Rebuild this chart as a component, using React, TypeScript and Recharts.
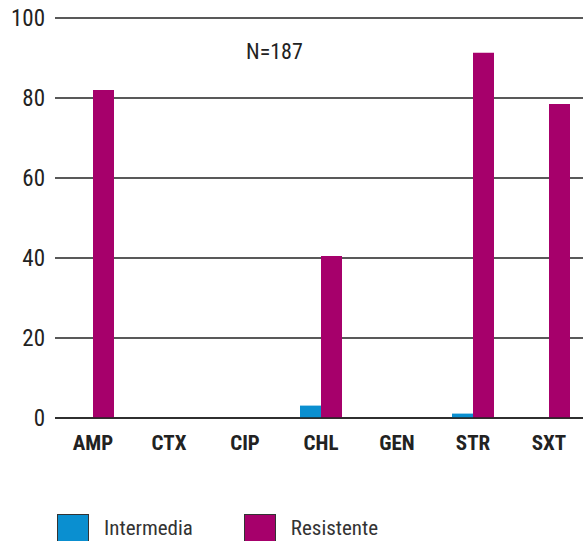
import React from 'react'
import { BarChart, Bar, XAxis, YAxis, CartesianGrid } from 'recharts'

const categories = ['AMP', 'CTX', 'CIP', 'CHL', 'GEN', 'STR', 'SXT']
const intermedia = [0, 0, 0, 3.1, 0, 1.1, 0]
const resistente = [82, 0, 0, 40.5, 0, 91.3, 78.5]
const yTicks = [0, 20, 40, 60, 80, 100]

const BLUE = '#0a8fd0'
const MAGENTA = '#a6006b'
const FONT = '"Liberation Sans Narrow", "Roboto Condensed", Roboto, sans-serif'

const data = categories.map((c, i) => ({
  name: c,
  intermedia: intermedia[i],
  resistente: resistente[i],
}))

const legendItems = [
  { label: 'Intermedia', color: BLUE },
  { label: 'Resistente', color: MAGENTA },
]

export default function App() {
  return (
    <div style={{ position: 'absolute', left: 0, top: 0, width: 583, height: 541, overflow: 'hidden', background: '#fff', fontFamily: FONT }}>
      <BarChart
        width={590}
        height={541}
        data={data}
        margin={{ top: 18, right: 3, bottom: 83, left: 0 }}
        barGap={0}
        barSize={21}
      >
        <CartesianGrid vertical={false} stroke="#222" strokeWidth={1.5} />
        <XAxis
          dataKey="name"
          axisLine={{ stroke: '#222', strokeWidth: 1.5 }}
          tickLine={false}
          tickSize={0}
          tickMargin={17}
          height={40}
          interval={0}
          tick={{ fill: '#222', fontSize: 21, fontWeight: 'bold', fontFamily: FONT }}
        />
        <YAxis
          domain={[0, 100]}
          ticks={yTicks}
          axisLine={false}
          tickLine={false}
          tickSize={0}
          tickMargin={10}
          width={55}
          tick={{ fill: '#222', fontSize: 23, fontFamily: FONT }}
        />
        <Bar dataKey="intermedia" fill={BLUE} isAnimationActive={false} />
        <Bar dataKey="resistente" fill={MAGENTA} isAnimationActive={false} />
      </BarChart>
      <div style={{ position: 'absolute', left: 246, top: 39, fontSize: 22, color: '#222' }}>N=187</div>
      <div style={{ position: 'absolute', left: 57, top: 514, display: 'flex', alignItems: 'center' }}>
        {legendItems.map((it, i) => (
          <div key={it.label} style={{ display: 'flex', alignItems: 'center', marginRight: i === 0 ? 51 : 0 }}>
            <div style={{ width: 30, height: 26, background: it.color, border: '1px solid #333' }} />
            <span style={{ marginLeft: 15, fontSize: 21, color: '#333' }}>{it.label}</span>
          </div>
        ))}
      </div>
    </div>
  )
}
